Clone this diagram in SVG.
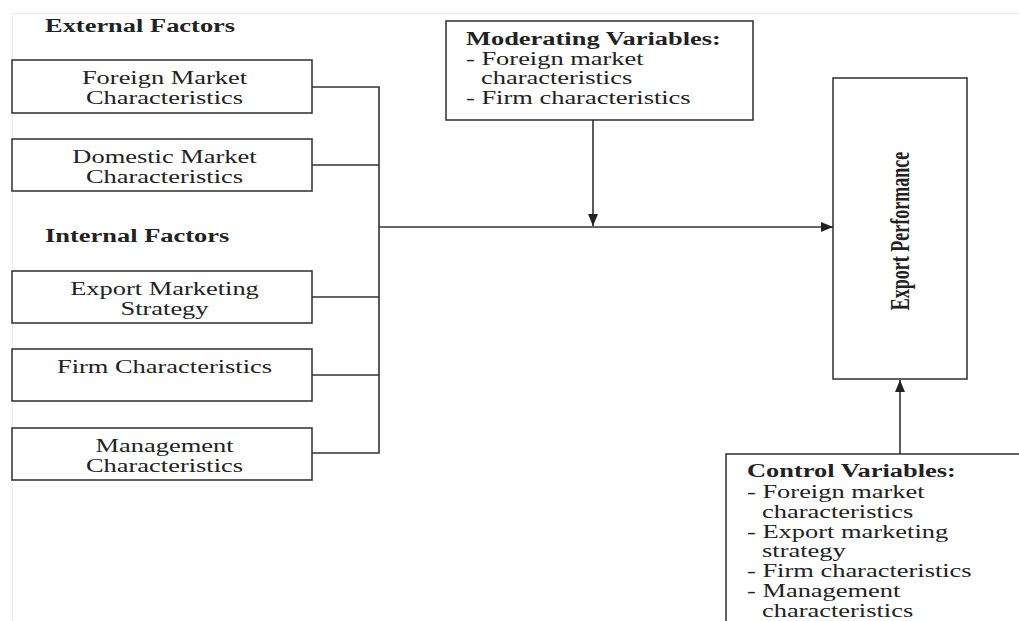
<svg xmlns="http://www.w3.org/2000/svg" width="1019" height="621" viewBox="0 0 1019 621">
<style>
  .box { fill: #fff; stroke: #3a3a3a; stroke-width: 1.6; }
  .ln { fill: none; stroke: #333; stroke-width: 1.6; }
  .t { font-family: "Liberation Serif", "Times New Roman", serif; font-size: 18px; fill: #222; }
  .b { font-weight: bold; }
  .m { text-anchor: middle; }
</style>
<defs>
  <marker id="arr" viewBox="0 0 12 10" refX="12" refY="5" markerWidth="12" markerHeight="10" markerUnits="userSpaceOnUse" orient="auto">
    <path d="M0,0 L12,5 L0,10 Z" fill="#222"/>
  </marker>
</defs>
<rect width="1019" height="621" fill="#fff"/>
<path d="M12.5,621 V13.5 H1019" fill="none" stroke="#ececec" stroke-width="1"/>

<g id="heading-external"><text class="t b" transform="translate(45,32) scale(1.47,1)">External Factors</text></g>
<g id="heading-internal"><text class="t b" transform="translate(45,242) scale(1.47,1)">Internal Factors</text></g>

<g id="foreign-market">
  <rect class="box" x="12" y="60" width="300" height="53"/>
  <text class="t m" transform="translate(164.5,84) scale(1.47,1)">Foreign Market</text>
  <text class="t m" transform="translate(164.5,104) scale(1.47,1)">Characteristics</text>
</g>
<g id="domestic-market">
  <rect class="box" x="12" y="139" width="300" height="52"/>
  <text class="t m" transform="translate(164.5,162.5) scale(1.47,1)">Domestic Market</text>
  <text class="t m" transform="translate(164.5,182.5) scale(1.47,1)">Characteristics</text>
</g>
<g id="export-marketing">
  <rect class="box" x="12" y="271" width="300" height="52"/>
  <text class="t m" transform="translate(164.5,294.5) scale(1.47,1)">Export Marketing</text>
  <text class="t m" transform="translate(164.5,314.5) scale(1.47,1)">Strategy</text>
</g>
<g id="firm-characteristics">
  <rect class="box" x="12" y="349" width="300" height="52"/>
  <text class="t m" transform="translate(164.5,373) scale(1.47,1)">Firm Characteristics</text>
</g>
<g id="management">
  <rect class="box" x="12" y="428" width="300" height="52"/>
  <text class="t m" transform="translate(164.5,452) scale(1.47,1)">Management</text>
  <text class="t m" transform="translate(164.5,472) scale(1.47,1)">Characteristics</text>
</g>

<g id="moderating">
  <rect class="box" x="446" y="21" width="307" height="99"/>
  <text class="t b" transform="translate(466,45) scale(1.47,1)">Moderating Variables:</text>
  <text class="t" transform="translate(466,64.5) scale(1.47,1)">- Foreign market</text>
  <text class="t" transform="translate(481,84) scale(1.47,1)">characteristics</text>
  <text class="t" transform="translate(466,103.5) scale(1.47,1)">- Firm characteristics</text>
</g>

<g id="export-performance">
  <rect class="box" x="833" y="78" width="134" height="301"/>
  <text class="t b m" transform="translate(909,231) scale(1.47,1) rotate(-90)">Export Performance</text>
</g>

<g id="control">
  <rect class="box" x="726" y="454" width="400" height="300"/>
  <text class="t b" transform="translate(747,477) scale(1.47,1)">Control Variables:</text>
  <text class="t" transform="translate(747,497.5) scale(1.47,1)">- Foreign market</text>
  <text class="t" transform="translate(762,517.5) scale(1.47,1)">characteristics</text>
  <text class="t" transform="translate(747,537.5) scale(1.47,1)">- Export marketing</text>
  <text class="t" transform="translate(762,557) scale(1.47,1)">strategy</text>
  <text class="t" transform="translate(747,577) scale(1.47,1)">- Firm characteristics</text>
  <text class="t" transform="translate(747,597) scale(1.47,1)">- Management</text>
  <text class="t" transform="translate(762,617) scale(1.47,1)">characteristics</text>
</g>

<g id="connectors">
  <path class="ln" d="M312,87 H379 M312,165 H379 M312,297 H379 M312,375 H379 M312,453 H379 M379,86.2 V453.8"/>
  <path class="ln" d="M379,227 H833" marker-end="url(#arr)"/>
  <path class="ln" d="M593,120 V226" marker-end="url(#arr)"/>
  <path class="ln" d="M900,454 V380" marker-end="url(#arr)"/>
</g>
</svg>
